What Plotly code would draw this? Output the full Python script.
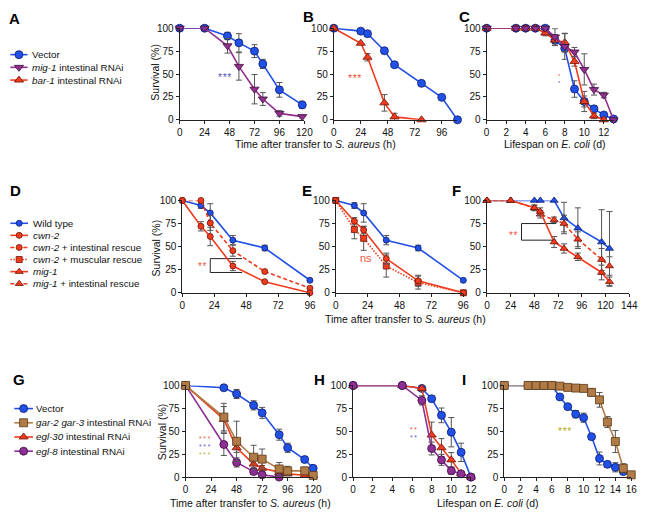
import plotly.graph_objects as go

W, H = 652, 520
FONT = "Liberation Sans, Arial, Helvetica, sans-serif"

BLUE, BLUE_EDGE = "#2150e6", "#0e1d6b"
PURPLE, PURPLE_EDGE = "#922f8f", "#3b0f3a"
RED, RED_EDGE = "#f03c1e", "#6e1308"
BROWN, BROWN_EDGE = "#b07b46", "#5b3915"
EGL8, EGL8_EDGE = "#8d2f95", "#3a0e3e"
STAR_RED, STAR_BLUE, STAR_GOLD = "#f0553c", "#5f58c8", "#b5ad2e"
ERR = "#555555"
AXIS = "#222222"

# ---------------- Panel A (S. aureus, h) ----------------
A_time = [0, 24, 46, 57, 72, 80, 96, 118]
A_vector = [100, 100, 91.5, 84, 75, 61, 32.7, 16.3]
A_vector_err = [0, 0, 4, 10, 7, 5, 8, 4]
A_mig1 = [100, 100, 80.8, 58.3, 33.4, 22.7, 7, 3.5]
A_mig1_err = [0, 0, 8, 15, 16, 7, 3, 1.5]

# ---------------- Panel B (S. aureus, h) ----------------
B_time_vector = [0, 24, 30, 45, 54, 78, 96, 110]
B_vector = [100, 96.8, 94, 75.4, 60.1, 39.8, 24.5, 0]
B_vector_err = [0, 0, 0, 0, 0, 0, 0, 0]
B_time_bar1 = [0, 24, 30, 45, 54, 78]
B_bar1 = [100, 83.6, 68.3, 18.5, 3.2, 0]
B_bar1_err = [0, 0, 4, 9, 4, 0]

# ---------------- Panel C (E. coli, d) ----------------
C_day = [0, 3, 4, 5, 6, 7, 8, 9, 10, 11, 12, 13]
C_vector = [100, 100, 100, 100, 100, 87, 78, 33.6, 20, 12, 5.3, 1]
C_vector_err = [0, 0, 0, 0, 0, 4, 4, 9, 6, 3, 2, 0]
C_day_bar1 = [0, 3, 4, 5, 6, 7, 8, 9, 10, 11, 12]
C_bar1 = [100, 100, 100, 100, 94.7, 87, 84.5, 63.6, 20, 4.2, 0]
C_bar1_err = [0, 0, 0, 0, 3, 6, 10, 5, 11, 3, 0]
C_mig1 = [100, 100, 100, 100, 100, 90.5, 80, 74, 55, 33, 27, 0]
C_mig1_err = [0, 0, 0, 0, 0, 9, 14, 5, 17, 6, 3, 0]

# ---------------- Panel D (S. aureus, h) ----------------
D_time = [0, 14, 21, 38, 62, 96]
D_wt = [100, 94.5, 86.5, 57, 48.5, 13.5]
D_wt_err = [0, 3, 10, 5, 3, 2]
D_cwn2 = [100, 72, 61, 29, 12, 0]
D_cwn2_err = [0, 5, 10, 5, 0, 0]
D_cwn2_int = [100, 100, 75.6, 45.6, 23, 5]
D_cwn2_int_err = [0, 0, 8, 6, 0, 0]
D_bracket_x = [45, 21, 21, 45]
D_bracket_y = [37, 37, 22, 22]

# ---------------- Panel E (S. aureus, h) ----------------
E_time = [0, 14, 21, 38, 62, 96]
E_wt = [100, 94.5, 86.5, 57, 48.5, 13.5]
E_wt_err = [0, 3, 10, 5, 3, 2]
E_cwn2 = [100, 77.5, 68, 37, 13, 0]
E_cwn2_err = [0, 4, 4, 6, 6, 0]
E_cwn2_mus = [100, 68.5, 59, 29, 11, 0]
E_cwn2_mus_err = [0, 10, 13, 12, 7, 0]

# ---------------- Panel F (S. aureus, h) ----------------
F_time = [0, 24, 48, 54, 68, 78, 92, 116, 124]
F_wt = [100, 100, 100, 100, 100, 81, 70, 55, 48]
F_wt_err = [0, 0, 0, 0, 0, 17, 22, 35, 40]
F_mig1 = [100, 100, 92, 88, 55, 48, 39, 22, 12]
F_mig1_err = [0, 0, 3, 4, 6, 5, 4, 8, 5]
F_mig1_int = [100, 100, 92, 85, 79, 75, 58, 36, 29]
F_mig1_int_err = [0, 0, 3, 4, 3, 9, 8, 12, 10]
F_bracket_x = [70, 35, 35, 70]
F_bracket_y = [75, 75, 57, 57]

# ---------------- Panel G (S. aureus, h) ----------------
G_time = [0, 36, 48, 64, 72, 88, 96, 112, 120]
G_vector = [100, 97.5, 90.7, 78.3, 70.1, 46.3, 32, 19.2, 9.6]
G_vector_err = [0, 2, 5, 5, 6, 6, 5, 3, 4]
G_gar = [100, 65.5, 39, 21.7, 19.6, 8.9, 6.8, 6.8, 1.8]
G_gar_err = [0, 15, 22, 13, 11, 7, 5, 4, 2]
G_egl30 = [100, 63, 32, 14.2, 9.6, 5, 3.5, 2, 2]
G_egl30_err = [0, 14, 5, 4, 3, 2, 2, 1, 1]
G_time_egl8 = [0, 36, 48, 64, 72, 88]
G_egl8 = [100, 35.6, 16, 6, 2.5, 0]
G_egl8_err = [0, 12, 5, 3, 1, 0]

# ---------------- Panel H (E. coli, d) ----------------
H_day = [0, 5, 7, 8, 9, 10, 11, 12]
H_vector = [100, 100, 96.8, 85.5, 67.4, 49, 27, 0]
H_vector_err = [0, 0, 2, 3, 8, 16, 10, 0]
H_egl30 = [100, 100, 96.8, 46, 32, 18.8, 4, 0]
H_egl30_err = [0, 0, 3, 14, 10, 8, 2, 0]
H_egl8 = [100, 100, 83.7, 31.2, 18.8, 7, 3.5, 0]
H_egl8_err = [0, 0, 5, 7, 6, 4, 1, 0]

# ---------------- Panel I (E. coli, d) ----------------
I_day = [0, 3, 4, 5, 6, 7, 8, 9, 10, 11, 12, 13, 14, 15, 16]
I_gar = [100, 100, 100, 100, 100, 99.3, 97.9, 97.2, 96.8, 92.5, 84.3, 60.1, 38.8, 9.6, 2.5]
I_gar_err = [0, 0, 0, 0, 0, 0, 1, 1, 1, 4, 8, 6, 12, 5, 0]
I_day_vector = [0, 3, 4, 5, 6, 7, 8, 9, 10, 11, 12, 13, 14, 15]
I_vector = [100, 100, 100, 100, 100, 87.5, 76.9, 68.7, 64.8, 44.1, 20.3, 13.9, 10.7, 6]
I_vector_err = [0, 0, 0, 0, 0, 0, 0, 4, 5, 0, 7, 3, 5, 3]

# ---------------- tick labels / texts ----------------
Y_TICKS = [0, 25, 50, 75, 100]
TICKS_H120 = [0, 24, 48, 72, 96, 120]
TICKS_H96 = [0, 24, 48, 72, 96]
TICKS_H144 = [0, 24, 48, 72, 96, 120, 144]
TICKS_D12 = [0, 2, 4, 6, 8, 10, 12]
TICKS_D16 = [0, 2, 4, 6, 8, 10, 12, 14, 16]

A_names = ["Vector", "<i>mig-1</i> intestinal RNAi", "<i>bar-1</i> intestinal RNAi"]
D_names = ["Wild type", "<i>cwn-2</i>", "<i>cwn-2</i> + intestinal rescue",
           "<i>cwn-2</i> + muscular rescue", "<i>mig-1</i>", "<i>mig-1</i> + intestinal rescue"]
G_names = ["Vector", "<i>gar-2 gar-3</i> intestinal RNAi", "<i>egl-30</i> intestinal RNAi",
           "<i>egl-8</i> intestinal RNAi"]
XT_AUREUS = "Time after transfer to <i>S. aureus</i> (h)"
XT_ECOLI = "Lifespan on <i>E. coli</i> (d)"
YT = "Survival (%)"


def sty(color, edge, symbol, size, dash="solid"):
    return dict(color=color, edge=edge, symbol=symbol, size=size, dash=dash)


S_vecA = sty(BLUE, BLUE_EDGE, "circle", 8)
S_migA = sty(PURPLE, PURPLE_EDGE, "triangle-down", 8)
S_barA = sty(RED, RED_EDGE, "triangle-up", 8)
S_wtD = sty(BLUE, BLUE_EDGE, "circle", 6)
S_cwn = sty(RED, RED_EDGE, "circle", 6)
S_cwnI = sty(RED, RED_EDGE, "circle", 6, "4px,2.5px")
S_cwnM = sty(RED, RED_EDGE, "square", 6, "1.5px,1.5px")
S_mig = sty(RED, RED_EDGE, "triangle-up", 7)
S_migI = sty(RED, RED_EDGE, "triangle-up", 7, "4px,2.5px")
S_wtF = sty(BLUE, BLUE_EDGE, "triangle-up", 7)
S_vecG = sty(BLUE, BLUE_EDGE, "circle", 8)
S_gar = sty(BROWN, BROWN_EDGE, "square", 8)
S_e30 = sty(RED, RED_EDGE, "triangle-up", 8)
S_e8 = sty(EGL8, EGL8_EDGE, "circle", 8)

# significance notes: (text, x, y, colour, font size, letter spacing px)
panels = [
    dict(letter="A", px=(180, 307), py=(23.7, 117.3), xr=120, xt=TICKS_H120,
         series=[(A_time, A_vector, A_vector_err, S_vecA), (A_time, A_mig1, A_mig1_err, S_migA)],
         notes=[("***", 44, 47, STAR_BLUE, 10.5, 0.6)]),
    dict(letter="B", px=(337, 463), py=(23.7, 117.3), xr=110, xt=TICKS_H96,
         series=[(B_time_vector, B_vector, B_vector_err, S_vecA), (B_time_bar1, B_bar1, B_bar1_err, S_barA)],
         notes=[("***", 18.6, 46, STAR_RED, 10.5, 0.6)]),
    dict(letter="C", px=(492.7, 622), py=(23.7, 117.3), xr=13, xt=TICKS_D12,
         series=[(C_day, C_vector, C_vector_err, S_vecA), (C_day_bar1, C_bar1, C_bar1_err, S_barA),
                 (C_day, C_mig1, C_mig1_err, S_migA)],
         notes=[("*", 7.45, 47.3, STAR_RED, 5.8, 0), ("*", 7.45, 40.3, STAR_BLUE, 5.8, 0)]),
    dict(letter="D", px=(182.7, 312.7), py=(199.7, 294), xr=96, xt=TICKS_H96,
         series=[(D_time, D_wt, D_wt_err, S_wtD), (D_time, D_cwn2_int, D_cwn2_int_err, S_cwnI),
                 (D_time, D_cwn2, D_cwn2_err, S_cwn)],
         notes=[("**", 15, 28, STAR_RED, 10, 0.5)], bracket=(D_bracket_x, D_bracket_y)),
    dict(letter="E", px=(339, 469), py=(199.7, 294), xr=96, xt=TICKS_H96,
         series=[(E_time, E_wt, E_wt_err, S_wtD), (E_time, E_cwn2_mus, E_cwn2_mus_err, S_cwnM),
                 (E_time, E_cwn2, E_cwn2_err, S_cwn)],
         notes=[("ns", 23, 38.2, STAR_RED, 11, 0)]),
    dict(letter="F", px=(493, 638), py=(199.7, 294), xr=144, xt=TICKS_H144,
         series=[(F_time, F_wt, F_wt_err, S_wtF), (F_time, F_mig1_int, F_mig1_int_err, S_migI),
                 (F_time, F_mig1, F_mig1_err, S_mig)],
         notes=[("**", 27, 62.5, STAR_RED, 10, 0.5)], bracket=(F_bracket_x, F_bracket_y)),
    dict(letter="G", px=(186, 316), py=(388.7, 482.3), xr=120, xt=TICKS_H120,
         series=[(G_time, G_vector, G_vector_err, S_vecG), (G_time, G_egl30, G_egl30_err, S_e30),
                 (G_time_egl8, G_egl8, G_egl8_err, S_e8), (G_time, G_gar, G_gar_err, S_gar)],
         notes=[("***", 19, 41.8, STAR_RED, 6.6, 1.8), ("***", 19, 33.7, STAR_BLUE, 6.6, 1.8),
                ("***", 19, 25.1, STAR_GOLD, 6.6, 1.8)]),
    dict(letter="H", px=(356.7, 476.7), py=(388.7, 482.3), xr=12, xt=TICKS_D12,
         series=[(H_day, H_vector, H_vector_err, S_vecG), (H_day, H_egl30, H_egl30_err, S_e30),
                 (H_day, H_egl8, H_egl8_err, S_e8)],
         notes=[("**", 6.25, 52.2, STAR_RED, 6.8, 1.5), ("**", 6.25, 43.7, STAR_BLUE, 6.8, 1.5)]),
    dict(letter="I", px=(510.7, 640), py=(388.7, 482.3), xr=16, xt=TICKS_D16,
         series=[(I_day_vector, I_vector, I_vector_err, S_vecG), (I_day, I_gar, I_gar_err, S_gar)],
         notes=[("***", 7.7, 50.5, STAR_GOLD, 10.5, 0.6)]),
]

LETTER_POS = {"A": (11.5, 13.3), "B": (311, 11.7), "C": (470.5, 12), "D": (12.3, 189),
              "E": (310, 190), "F": (462, 190), "G": (16, 382.5), "H": (322, 382.5), "I": (470, 382.5)}

fig = go.Figure()
layout = dict(width=W, height=H, autosize=False, margin=dict(l=0, r=0, t=0, b=0),
              paper_bgcolor="white", plot_bgcolor="rgba(0,0,0,0)", showlegend=False,
              font=dict(family=FONT, size=10, color="#111"))
annotations = []

tickfont = dict(family=FONT, size=10, color="#111")

for i, p in enumerate(panels, start=1):
    xa, ya = f"x{i}", f"y{i}"
    layout[f"xaxis{i}"] = dict(domain=[p["px"][0] / W, p["px"][1] / W], range=[0, p["xr"]],
                               tickvals=p["xt"], ticks="outside", ticklen=3, tickwidth=1,
                               tickcolor=AXIS, showline=True, linecolor=AXIS, linewidth=1,
                               showgrid=False, zeroline=False, tickfont=tickfont, anchor=ya,
                               fixedrange=True)
    layout[f"yaxis{i}"] = dict(domain=[1 - p["py"][1] / H, 1 - p["py"][0] / H], range=[0, 100],
                               tickvals=Y_TICKS, ticks="outside", ticklen=3, tickwidth=1,
                               tickcolor=AXIS, showline=True, linecolor=AXIS, linewidth=1,
                               showgrid=False, zeroline=False, tickfont=tickfont, anchor=xa,
                               fixedrange=True)
    if "bracket" in p:
        bx, by = p["bracket"]
        fig.add_trace(go.Scatter(x=bx, y=by, mode="lines", line=dict(color=AXIS, width=1),
                                 xaxis=xa, yaxis=ya, hoverinfo="skip", cliponaxis=False))
    for t, v, e, s in p["series"]:
        et = [tt for tt, ee in zip(t, e) if ee]
        ev = [vv for vv, ee in zip(v, e) if ee]
        ee_ = [ee for ee in e if ee]
        if et:
            fig.add_trace(go.Scatter(x=et, y=ev, mode="markers", marker=dict(size=1, opacity=0),
                                     error_y=dict(type="data", array=ee_, color=ERR, thickness=1, width=3),
                                     xaxis=xa, yaxis=ya, hoverinfo="skip", cliponaxis=False))
        fig.add_trace(go.Scatter(x=t, y=v, mode="lines+markers", xaxis=xa, yaxis=ya,
                                 line=dict(color=s["color"], width=1.6, dash=s["dash"]),
                                 marker=dict(symbol=s["symbol"], size=s["size"], color=s["color"],
                                             line=dict(color=s["edge"], width=0.8)),
                                 cliponaxis=False))
    for txt, nx, ny, col, fs, ls in p["notes"]:
        label = f"<span style='letter-spacing:{ls}px'>{txt}</span>" if ls else txt
        annotations.append(dict(x=nx, y=ny, xref=xa, yref=ya, text=label, showarrow=False,
                                xanchor="center", yanchor="middle", borderpad=0,
                                font=dict(family=FONT, size=fs, color=col)))
    lx, ly = LETTER_POS[p["letter"]]
    annotations.append(dict(x=lx / W, y=1 - ly / H, xref="paper", yref="paper", text=f"<b>{p['letter']}</b>",
                            showarrow=False, xanchor="center", yanchor="middle",
                            font=dict(family=FONT, size=15, color="#000")))

# axis titles (px positions)
for txt, x, y in [(XT_AUREUS, 318, 142), (XT_ECOLI, 562, 142), (XT_AUREUS, 410, 321),
                  (XT_AUREUS, 252, 509), (XT_ECOLI, 494, 509)]:
    annotations.append(dict(x=x / W, y=1 - y / H, xref="paper", yref="paper", text=txt, showarrow=False,
                            xanchor="center", yanchor="middle", font=dict(family=FONT, size=10.5, color="#111")))
for x, y in [(154, 69), (155.5, 248), (161.5, 436)]:
    annotations.append(dict(x=x / W, y=1 - y / H, xref="paper", yref="paper", text=YT, showarrow=False,
                            textangle=-90, xanchor="center", yanchor="middle",
                            font=dict(family=FONT, size=10.5, color="#111")))

# overlay axis in pixel units for the legend samples
li = len(panels) + 1
layout[f"xaxis{li}"] = dict(domain=[0, 1], range=[0, W], visible=False, fixedrange=True, anchor=f"y{li}")
layout[f"yaxis{li}"] = dict(domain=[0, 1], range=[H, 0], visible=False, fixedrange=True, anchor=f"x{li}")


def add_legend(names, styles, x_line, x_text, y0, dy):
    for k, (name, s) in enumerate(zip(names, styles)):
        yy = y0 + dy * k
        fig.add_trace(go.Scatter(x=list(x_line), y=[yy, yy], mode="lines",
                                 line=dict(color=s["color"], width=1.6, dash=s["dash"]),
                                 xaxis=f"x{li}", yaxis=f"y{li}", hoverinfo="skip", cliponaxis=False))
        fig.add_trace(go.Scatter(x=[(x_line[0] + x_line[1]) / 2], y=[yy], mode="markers",
                                 marker=dict(symbol=s["symbol"], size=s["size"], color=s["color"],
                                             line=dict(color=s["edge"], width=0.8)),
                                 xaxis=f"x{li}", yaxis=f"y{li}", hoverinfo="skip", cliponaxis=False))
        annotations.append(dict(x=x_text / W, y=1 - yy / H, xref="paper", yref="paper", text=name,
                                showarrow=False, xanchor="left", yanchor="middle",
                                font=dict(family=FONT, size=9.8, color="#111")))


add_legend(A_names, [S_vecA, S_migA, S_barA], (7.5, 25), 27.5, 50.7, 13)
add_legend(D_names, [S_wtD, S_cwn, S_cwnI, S_cwnM, S_mig, S_migI], (7.5, 25.5), 28.5, 223, 12.35)
add_legend(G_names, [S_vecG, S_gar, S_e30, S_e8], (11.5, 30.5), 31.5, 412.3, 14.5)

layout["annotations"] = annotations
fig.update_layout(**layout)
fig.write_html("out.html", config={"displayModeBar": False, "staticPlot": True},
               post_script="document.body.style.margin='0px';document.body.style.overflow='hidden';")
